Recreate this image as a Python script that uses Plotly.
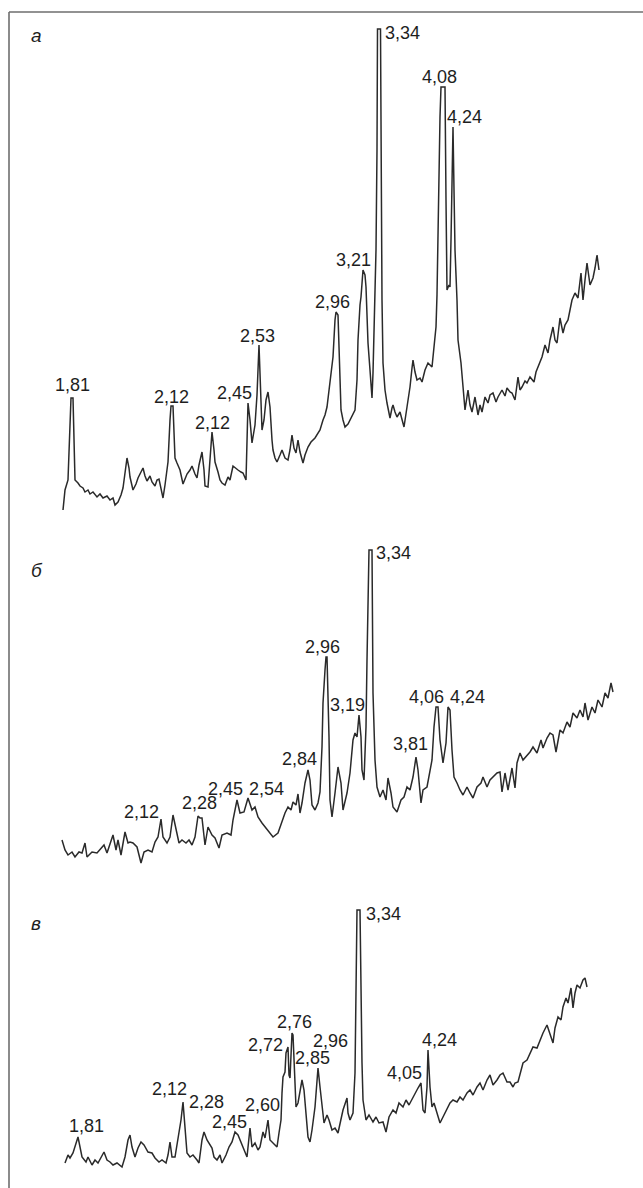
import plotly.graph_objects as go

W, H = 643, 1188

# Diffractogram scans: (channel, intensity) pairs, one list per sample
scan_a = [
    (63, 2), (65, 22), (68, 32), (70, 92), (71, 114), (73, 114), (74, 72), (75, 32), (78, 29), (80, 26),
    (83, 24), (85, 20), (88, 22), (90, 18), (93, 20), (97, 15), (100, 18), (103, 14), (107, 16), (110, 12),
    (113, 14), (115, 7), (118, 10), (121, 17), (123, 24), (125, 42), (127, 54), (129, 44), (130, 35), (133, 22),
    (136, 28), (138, 34), (141, 40), (143, 44), (145, 36), (147, 31), (150, 36), (152, 30), (155, 26), (157, 32),
    (159, 33), (161, 24), (163, 14), (165, 27), (166, 34), (168, 50), (170, 92), (171, 106), (173, 106), (174, 82),
    (175, 54), (177, 49), (180, 42), (183, 28), (185, 34), (187, 38), (190, 42), (192, 46), (195, 38), (197, 34),
    (199, 47), (202, 60), (204, 42), (205, 26), (208, 25), (210, 52), (212, 80), (214, 62), (215, 50), (218, 40),
    (220, 32), (222, 29), (225, 27), (228, 35), (230, 32), (233, 46), (235, 44), (238, 42), (241, 40), (243, 39),
    (246, 32), (247, 72), (248, 109), (250, 92), (252, 69), (255, 87), (257, 117), (259, 167), (260, 142), (262, 82),
    (264, 92), (266, 112), (268, 120), (270, 105), (272, 72), (273, 62), (275, 54), (277, 50), (280, 57), (282, 62),
    (285, 54), (288, 52), (290, 62), (292, 77), (294, 64), (296, 59), (298, 72), (300, 60), (303, 49), (305, 57),
    (308, 65), (311, 70), (315, 74), (318, 79), (320, 82), (323, 92), (325, 97), (327, 105), (330, 132), (333, 155),
    (335, 192), (336, 200), (338, 197), (339, 162), (341, 102), (343, 92), (345, 85), (348, 88), (350, 92), (353, 98),
    (355, 102), (357, 132), (358, 172), (360, 207), (361, 215), (363, 242), (365, 237), (366, 225), (368, 169), (370, 142),
    (372, 114), (373, 139), (375, 212), (376, 262), (377, 362), (377.5, 483), (380.5, 483), (381, 362), (382, 212), (383, 149),
    (385, 122), (387, 109), (390, 94), (392, 104), (393, 107), (395, 100), (397, 95), (400, 100), (402, 92), (404, 85),
    (407, 105), (410, 125), (412, 144), (413, 152), (415, 140), (417, 132), (420, 134), (422, 130), (425, 142), (428, 149),
    (432, 145), (434, 162), (436, 185), (437, 217), (438, 282), (439, 362), (440, 395), (441, 425), (445, 425), (446, 312),
    (447, 222), (449, 227), (450, 225), (451, 272), (452, 342), (453, 385), (454, 322), (455, 262), (457, 212), (458, 172),
    (461, 149), (463, 129), (465, 102), (468, 122), (470, 107), (472, 100), (475, 115), (478, 97), (480, 107), (482, 100),
    (485, 115), (488, 109), (490, 117), (493, 119), (496, 110), (498, 115), (502, 122), (505, 116), (507, 124), (510, 120),
    (512, 119), (515, 112), (518, 135), (520, 122), (522, 125), (525, 131), (527, 129), (530, 135), (534, 130), (536, 140),
    (538, 145), (540, 150), (542, 155), (545, 167), (548, 159), (550, 172), (553, 185), (555, 172), (557, 169), (560, 194),
    (563, 179), (565, 187), (568, 192), (570, 202), (572, 212), (575, 219), (578, 214), (581, 239), (583, 212), (585, 232),
    (587, 249), (590, 227), (593, 234), (595, 244), (597, 257), (599, 242),
]

scan_b = [
    (62, 30), (65, 20), (68, 15), (72, 18), (75, 13), (79, 18), (82, 17), (85, 27), (87, 13), (92, 18),
    (97, 17), (100, 20), (104, 25), (107, 17), (110, 27), (113, 35), (116, 20), (118, 30), (121, 15), (125, 38),
    (128, 27), (130, 28), (133, 27), (137, 23), (141, 7), (144, 18), (148, 20), (152, 18), (155, 28), (158, 33),
    (161, 51), (163, 33), (167, 27), (170, 33), (173, 55), (176, 40), (179, 27), (182, 30), (186, 27), (189, 30),
    (192, 25), (195, 33), (198, 54), (200, 52), (202, 52), (205, 25), (208, 43), (212, 35), (215, 32), (219, 22),
    (222, 35), (227, 37), (231, 35), (233, 50), (237, 70), (240, 57), (244, 58), (248, 72), (252, 60), (255, 63),
    (258, 53), (262, 47), (266, 42), (270, 37), (273, 33), (278, 37), (282, 48), (285, 57), (288, 63), (291, 60),
    (293, 68), (296, 65), (298, 76), (300, 57), (302, 67), (305, 87), (308, 100), (310, 90), (312, 65), (315, 60),
    (318, 67), (320, 78), (322, 123), (323, 167), (325, 200), (326, 213), (327, 213), (328, 180), (329, 133), (330, 70),
    (332, 53), (335, 77), (338, 103), (341, 87), (343, 60), (347, 77), (350, 97), (353, 130), (355, 137), (357, 133),
    (359, 155), (361, 133), (362, 100), (364, 90), (366, 143), (367, 210), (368, 290), (369, 320), (372, 320), (373, 177),
    (375, 110), (377, 83), (380, 73), (383, 80), (386, 70), (388, 92), (391, 77), (393, 63), (397, 58), (401, 70),
    (404, 73), (407, 83), (410, 80), (413, 93), (416, 113), (418, 100), (421, 67), (423, 80), (427, 83), (429, 93),
    (432, 110), (434, 143), (436, 163), (438, 163), (440, 130), (443, 107), (446, 127), (448, 163), (450, 160), (452, 120),
    (454, 93), (457, 87), (460, 80), (463, 75), (467, 83), (470, 77), (473, 72), (477, 83), (481, 87), (483, 93),
    (487, 83), (490, 90), (493, 93), (497, 97), (500, 98), (502, 78), (505, 97), (508, 80), (512, 102), (515, 82),
    (517, 107), (520, 117), (523, 110), (527, 115), (530, 118), (533, 123), (537, 117), (541, 130), (543, 122), (547, 132),
    (550, 137), (553, 135), (556, 118), (560, 140), (563, 137), (567, 148), (570, 143), (573, 157), (577, 152), (580, 160),
    (583, 153), (585, 167), (588, 150), (592, 163), (595, 157), (598, 170), (602, 163), (605, 177), (608, 172), (611, 187),
    (613, 178),
]

scan_c = [
    (65, 12), (68, 20), (70, 17), (73, 22), (78, 38), (80, 28), (82, 18), (86, 13), (88, 18), (92, 10),
    (95, 15), (98, 12), (102, 20), (104, 23), (107, 15), (110, 13), (113, 10), (117, 12), (122, 8), (125, 18),
    (128, 35), (130, 40), (132, 28), (135, 18), (138, 27), (141, 33), (144, 30), (148, 23), (152, 22), (155, 17),
    (159, 13), (162, 15), (166, 12), (168, 20), (170, 33), (172, 18), (175, 18), (178, 35), (181, 55), (183, 73),
    (185, 48), (187, 22), (190, 18), (193, 20), (197, 15), (199, 12), (202, 35), (204, 43), (207, 35), (209, 32),
    (212, 27), (214, 18), (217, 15), (220, 20), (222, 12), (226, 20), (229, 28), (232, 33), (235, 43), (238, 40),
    (240, 35), (243, 28), (247, 18), (250, 47), (252, 28), (255, 32), (258, 25), (260, 28), (263, 43), (265, 37),
    (268, 55), (270, 35), (273, 32), (277, 28), (279, 42), (281, 55), (282, 82), (283, 98), (285, 103), (286, 122),
    (288, 128), (289, 100), (290, 97), (292, 142), (293, 140), (294, 108), (296, 68), (298, 72), (301, 88), (302, 95),
    (304, 85), (306, 62), (308, 38), (310, 33), (312, 45), (315, 68), (317, 102), (318, 107), (320, 88), (322, 68),
    (324, 52), (327, 60), (329, 55), (332, 45), (335, 47), (338, 42), (341, 55), (343, 65), (347, 77), (348, 62),
    (350, 55), (353, 62), (355, 102), (356, 200), (357, 265), (360, 265), (361, 150), (362, 112), (363, 75), (366, 55),
    (369, 60), (373, 53), (376, 58), (379, 52), (383, 53), (386, 43), (389, 58), (393, 65), (396, 62), (399, 72),
    (403, 68), (406, 75), (409, 70), (413, 78), (416, 83), (418, 87), (421, 92), (423, 65), (425, 62), (427, 88),
    (428, 125), (430, 88), (432, 68), (434, 72), (437, 62), (440, 52), (443, 58), (447, 67), (450, 72), (453, 75),
    (457, 73), (460, 78), (463, 75), (467, 82), (470, 85), (473, 80), (477, 88), (480, 92), (483, 85), (487, 95),
    (490, 100), (493, 90), (497, 95), (500, 100), (503, 102), (507, 93), (510, 93), (513, 88), (515, 92), (518, 93),
    (521, 105), (523, 112), (527, 115), (530, 122), (533, 128), (537, 127), (540, 135), (543, 142), (547, 150), (550, 142),
    (553, 132), (555, 147), (558, 158), (561, 155), (563, 168), (566, 177), (568, 172), (571, 187), (573, 167), (575, 182),
    (577, 190), (580, 187), (583, 195), (585, 197), (587, 188),
]

# Interplanar spacing labels (Å) attached to the reflections of each scan
peaks_a = ["1,81", "2,12", "2,12", "2,45", "2,53", "2,96", "3,21", "3,34", "4,08", "4,24"]
peaks_b = ["2,12", "2,28", "2,45", "2,54", "2,84", "2,96", "3,19", "3,34", "3,81", "4,06", "4,24"]
peaks_c = ["1,81", "2,12", "2,28", "2,45", "2,60", "2,72", "2,76", "2,85", "2,96", "3,34", "4,05", "4,24"]
panel_names = ["а", "б", "в"]

# ---- layout placement (page pixels) ----
# vertical extent of each panel: (top, baseline)
panel_box = [(12, 512), (540, 870), (900, 1175)]
label_xy_a = [(72, 385), (171, 397), (212, 423), (234, 393), (257, 336), (332, 302),
              (353, 260), (402, 33), (439, 77), (465, 117)]
label_xy_b = [(141, 812), (199, 803), (225, 789), (266, 789), (299, 759), (322, 647),
              (347, 705), (393, 553), (410, 744), (426, 697), (467, 697)]
label_xy_c = [(86, 1126), (169, 1089), (206, 1102), (229, 1122), (262, 1105), (265, 1045),
              (294, 1022), (312, 1058), (330, 1041), (383, 914), (404, 1073), (440, 1040)]
name_xy = [(36, 36), (37, 570), (36, 923)]


def px(x, y):
    return x / W, 1 - y / H


fig = go.Figure()
layout = dict(
    width=W, height=H, margin=dict(l=0, r=0, t=0, b=0),
    paper_bgcolor="white", plot_bgcolor="rgba(0,0,0,0)", showlegend=False,
)

scans = [scan_a, scan_b, scan_c]
for i, (scan, (top, base)) in enumerate(zip(scans, panel_box), start=1):
    sfx = "" if i == 1 else str(i)
    fig.add_trace(go.Scatter(
        x=[p[0] for p in scan], y=[p[1] for p in scan],
        mode="lines", line=dict(color="#2a2a2a", width=1.5),
        xaxis="x" + sfx, yaxis="y" + sfx, hoverinfo="skip",
    ))
    layout["xaxis" + sfx] = dict(domain=[0, 1], range=[0, W], visible=False,
                                  anchor="y" + sfx, fixedrange=True)
    layout["yaxis" + sfx] = dict(domain=[1 - base / H, 1 - top / H], range=[0, base - top],
                                  visible=False, anchor="x" + sfx, fixedrange=True)

annotations = []
font = dict(family="Liberation Sans, Arial, sans-serif", size=18, color="#1e1e1e")
for texts, places in [(peaks_a, label_xy_a), (peaks_b, label_xy_b), (peaks_c, label_xy_c)]:
    for t, (lx, ly) in zip(texts, places):
        ax, ay = px(lx, ly)
        annotations.append(dict(text=t, x=ax, y=ay, xref="paper", yref="paper",
                                xanchor="center", yanchor="middle", showarrow=False, font=font))
for name, (lx, ly) in zip(panel_names, name_xy):
    ax, ay = px(lx, ly)
    annotations.append(dict(text="<i>" + name + "</i>", x=ax, y=ay, xref="paper", yref="paper",
                            xanchor="center", yanchor="middle", showarrow=False,
                            font=dict(family="Liberation Sans, Arial, sans-serif", size=19, color="#1e1e1e")))
layout["annotations"] = annotations

# frame: top rule and left rule
x0, y0 = px(9, 12)
layout["shapes"] = [
    dict(type="line", xref="paper", yref="paper", x0=x0, x1=1, y0=y0, y1=y0,
         line=dict(color="#6e6e6e", width=1.6)),
    dict(type="line", xref="paper", yref="paper", x0=x0, x1=x0, y0=0, y1=y0,
         line=dict(color="#6e6e6e", width=1.6)),
]

fig.update_layout(**layout)
fig.write_html("out.html")
